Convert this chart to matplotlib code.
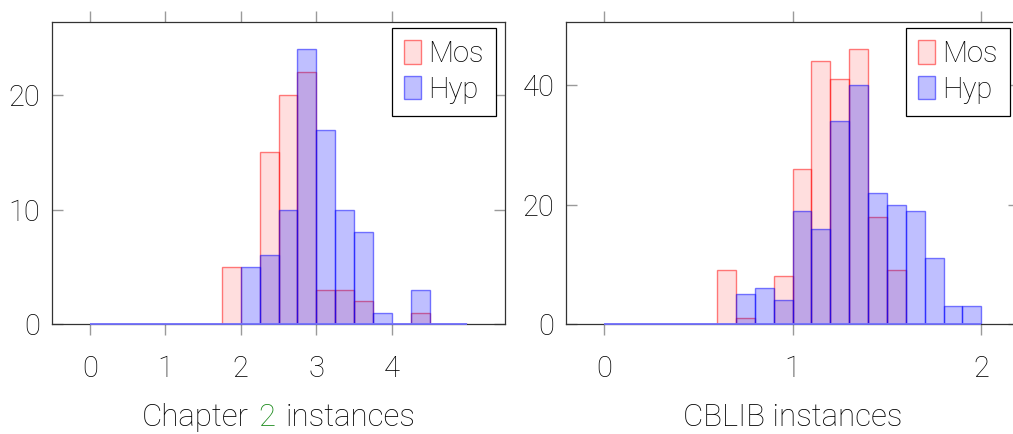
import matplotlib
matplotlib.use("Agg")
import matplotlib.pyplot as plt
from matplotlib.offsetbox import TextArea, HPacker, AnchoredOffsetbox
import numpy as np

# ---- data -------------------------------------------------------------
# Chapter 2 instances: histogram bins of width 0.25 on [0, 5]
ch2_bin_width = 0.25
ch2_edges = np.arange(0, 5.0 + 1e-9, ch2_bin_width)
ch2_mos = [0, 0, 0, 0, 0, 0, 0, 5, 0, 15, 20, 22, 3, 3, 2, 0, 0, 1, 0, 0]
ch2_hyp = [0, 0, 0, 0, 0, 0, 0, 0, 5, 6, 10, 24, 17, 10, 8, 1, 0, 3, 0, 0]
ch2_xticks = [0, 1, 2, 3, 4]
ch2_yticks = [0, 10, 20]

# CBLIB instances: histogram bins of width 0.1 on [0, 2]
cb_bin_width = 0.1
cb_edges = np.arange(0, 2.0 + 1e-9, cb_bin_width)
cb_mos = [0, 0, 0, 0, 0, 0, 9, 1, 0, 8, 26, 44, 41, 46, 18, 9, 0, 0, 0, 0]
cb_hyp = [0, 0, 0, 0, 0, 0, 0, 5, 6, 4, 19, 16, 34, 40, 22, 20, 19, 11, 3, 3]
cb_xticks = [0, 1, 2]
cb_yticks = [0, 20, 40]

series_names = ["Mos", "Hyp"]

# ---- style ------------------------------------------------------------
FONT = dict(family="Roboto", weight="light")
FS = 21
LABEL_FS = 22.5
TEXT_COLOR = "#000000"
plt.rcParams["font.family"] = "Roboto"

MOS_FACE = (1.0, 0.0, 0.0, 0.13)
MOS_EDGE = (1.0, 0.0, 0.0, 0.5)
HYP_FACE = (0.0, 0.0, 1.0, 0.25)
HYP_EDGE = (0.0, 0.0, 1.0, 0.5)
TICK_COLOR = "#9a9a9a"

fig = plt.figure(figsize=(10.13, 4.34), dpi=100)

W, H = 1013.0, 434.0
ax_bottom = (H - 324) / H
ax_height = 302 / H
ax_width = 453 / W
ax1 = fig.add_axes([52 / W, ax_bottom, ax_width, ax_height])
ax2 = fig.add_axes([566 / W, ax_bottom, ax_width, ax_height])


def draw_hist(ax, edges, width, mos, hyp, xticks, yticks, xlim, ylim):
    ax.bar(edges[:-1], mos, width=width, align="edge",
           facecolor=MOS_FACE, edgecolor=MOS_EDGE, linewidth=1.0,
           zorder=3, label=series_names[0])
    ax.bar(edges[:-1], hyp, width=width, align="edge",
           facecolor=HYP_FACE, edgecolor=HYP_EDGE, linewidth=1.0,
           zorder=4, label=series_names[1])
    # outline of the empty bins along the baseline
    ax.hlines(0, edges[0], edges[-1], color=(0.45, 0.45, 1.0), linewidth=1.3,
              zorder=5, clip_on=False)
    ax.set_xlim(*xlim)
    ax.set_ylim(*ylim)
    ax.set_xticks(xticks)
    ax.set_yticks(yticks)
    ax.set_xticklabels([str(t) for t in xticks], fontsize=FS,
                       color=TEXT_COLOR, **FONT)
    ax.set_yticklabels([str(t) for t in yticks], fontsize=FS,
                       color=TEXT_COLOR, **FONT)
    ax.tick_params(axis="x", direction="out", length=8, width=1,
                   color=TICK_COLOR, top=True, bottom=True, pad=14)
    ax.tick_params(axis="y", direction="in", length=8, width=1,
                   color=TICK_COLOR, left=True, right=True, pad=8.5)
    for sp in ax.spines.values():
        sp.set_color("#333333")
        sp.set_linewidth(0.9)
        sp.set_zorder(2)
    leg = ax.legend(loc="upper right", bbox_to_anchor=(0.98, 0.98),
                    borderaxespad=0, fancybox=False, framealpha=1,
                    edgecolor="black", prop=dict(size=FS, **FONT),
                    handlelength=0.58, handleheight=0.86,
                    handletextpad=0.25, labelspacing=0.25,
                    borderpad=0.42)
    for t in leg.get_texts():
        t.set_color(TEXT_COLOR)
    leg.get_frame().set_linewidth(0.9)
    leg.set_zorder(10)


draw_hist(ax1, ch2_edges, ch2_bin_width, ch2_mos, ch2_hyp,
          ch2_xticks, ch2_yticks, (-0.5, 5.5), (0, 1.1 * max(ch2_hyp)))
draw_hist(ax2, cb_edges, cb_bin_width, cb_mos, cb_hyp,
          cb_xticks, cb_yticks, (-0.2, 2.2), (0, 1.1 * max(cb_mos)))


def label_below(ax, parts, y):
    boxes = [TextArea(txt, textprops=dict(color=col, fontsize=LABEL_FS,
                                          **FONT))
             for txt, col in parts]
    pack = HPacker(children=boxes, align="baseline", pad=0, sep=7)
    anchored = AnchoredOffsetbox(loc="center", child=pack, pad=0,
                                 borderpad=0, frameon=False,
                                 bbox_to_anchor=(0.5, y),
                                 bbox_transform=ax.transAxes)
    ax.add_artist(anchored)


label_below(ax1, [("Chapter", TEXT_COLOR), ("2", "#1a8a1a"),
                  ("instances", TEXT_COLOR)], -0.31)
label_below(ax2, [("CBLIB instances", TEXT_COLOR)], -0.31)

fig.savefig("out.png", dpi=100)
